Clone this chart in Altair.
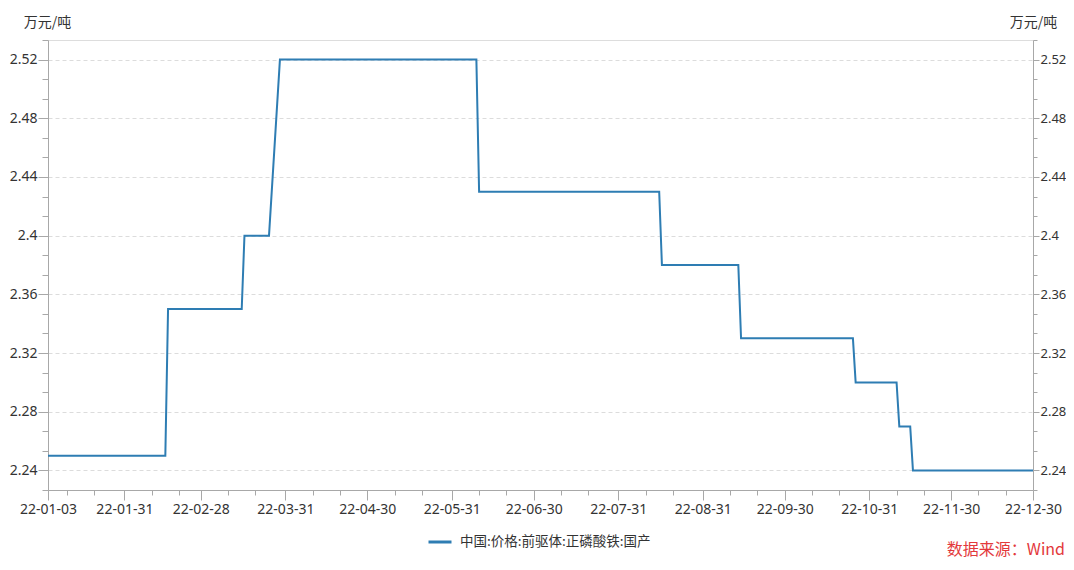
import altair as alt
import pandas as pd

# ---- text ----
series_name = "中国:价格:前驱体:正磷酸铁:国产"
unit_label = "万元/吨"
source_label = "数据来源：Wind"

# ---- series (step vertices) ----
dates = [
    "2022-01-03", "2022-02-15", "2022-02-16", "2022-03-15", "2022-03-16",
    "2022-03-25", "2022-03-29", "2022-06-09", "2022-06-10", "2022-08-15",
    "2022-08-16", "2022-09-13", "2022-09-14", "2022-10-25", "2022-10-26",
    "2022-11-10", "2022-11-11", "2022-11-15", "2022-11-16", "2022-12-30",
]
prices = [
    2.25, 2.25, 2.35, 2.35, 2.40,
    2.40, 2.52, 2.52, 2.43, 2.43,
    2.38, 2.38, 2.33, 2.33, 2.30,
    2.30, 2.27, 2.27, 2.24, 2.24,
]

# ---- tick labels ----
x_major_labels = [
    "2022-01-03", "2022-01-31", "2022-02-28", "2022-03-31", "2022-04-30",
    "2022-05-31", "2022-06-30", "2022-07-31", "2022-08-31", "2022-09-30",
    "2022-10-31", "2022-11-30", "2022-12-30",
]
x_minor_days = [10, 20]
x_minor_months = list(range(1, 13))
y_major = [2.24, 2.28, 2.32, 2.36, 2.40, 2.44, 2.48, 2.52]
y_step = 0.04 / 3
y_lo = 2.24 - y_step
y_hi = 2.52 + y_step
y_minor = [round(2.24 + k * y_step, 6) for k in range(-1, 23) if k % 3 != 0]

# ---- styles ----
LINE = "#2e7db3"
AX = "#a8a8a8"
LAB = "#333333"
FONT = "Noto Sans, Noto Sans CJK SC, sans-serif"
FONT_CJK = "Noto Sans CJK SC, sans-serif"
SRC = "#e3393c"


def dt(s):
    y, m, d = (int(v) for v in s.split("-"))
    return alt.DateTime(year=y, month=m, date=d, utc=True)


x_major_vals = [dt(s) for s in x_major_labels]
x_minor_vals = [alt.DateTime(year=2022, month=m, date=d, utc=True)
                for m in x_minor_months for d in x_minor_days]

df = pd.DataFrame({"date": dates, "price": prices, "series": series_name})

x_scale = alt.Scale(type="utc", domain=[dt(x_major_labels[0]), dt(x_major_labels[-1])])
y_scale = alt.Scale(domain=[y_lo, y_hi], zero=False, nice=False)

common_axis = dict(domainColor=AX, tickColor=AX, labelColor=LAB, labelFont=FONT,
                   labelFontSize=14, title=None, labelOverlap=False, labelFlush=False)

line = alt.Chart(df).mark_line(strokeWidth=2).encode(
    x=alt.X("date:T", scale=x_scale, axis=alt.Axis(
        values=x_major_vals, labelExpr="utcFormat(datum.value, '%y-%m-%d')",
        tickSize=10, labelPadding=2, grid=False, orient="bottom", **common_axis)),
    y=alt.Y("price:Q", scale=y_scale, axis=alt.Axis(
        values=y_major, format=".2~f", tickSize=10, labelPadding=1, orient="left",
        grid=True, gridDash=[4, 3], gridColor="#dcdcdc", gridWidth=1,
        domainColor=AX, tickColor=AX, labelColor=LAB, labelFont=FONT, labelFontSize=14,
        labelOverlap=False, labelFlush=False,
        title=unit_label, titleAngle=0, titleX=-1, titleY=-18, titleAlign="center",
        titleBaseline="middle", titleFontSize=14, titleFontWeight="normal",
        titleColor=LAB, titleFont=FONT_CJK)),
    color=alt.Color("series:N", scale=alt.Scale(domain=[series_name], range=[LINE]),
                    legend=alt.Legend(orient="none", legendX=379, legendY=489,
                                      direction="horizontal", title=None,
                                      symbolType="stroke", symbolSize=529,
                                      symbolStrokeWidth=3, labelFontSize=13.5,
                                      labelFont=FONT_CJK, labelColor=LAB,
                                      labelOffset=7, padding=0, labelLimit=0)),
)

minor_left = alt.Chart(df).mark_line(strokeOpacity=0).encode(
    x=alt.X("date:T", scale=x_scale, axis=alt.Axis(
        values=x_minor_vals, labels=False, domain=False, tickSize=5, grid=False,
        orient="bottom", tickColor=AX, title=None)),
    y=alt.Y("price:Q", scale=y_scale, axis=alt.Axis(
        values=y_minor, labels=False, domain=False, tickSize=6, grid=False,
        orient="left", tickColor=AX, title=None)),
)

right_major = alt.Chart(df).mark_line(strokeOpacity=0).encode(
    x=alt.X("date:T", scale=x_scale, axis=None),
    y=alt.Y("price:Q", scale=y_scale, axis=alt.Axis(
        values=y_major, format=".2~f", tickSize=6, labelPadding=1, orient="right",
        grid=False, domainColor=AX, tickColor=AX, labelColor=LAB, labelFont=FONT,
        labelFontSize=13, labelOverlap=False, labelFlush=False,
        title=unit_label, titleAngle=0, titleX=0, titleY=-18, titleAlign="center",
        titleBaseline="middle", titleFontSize=14, titleFontWeight="normal",
        titleColor=LAB, titleFont=FONT_CJK)),
)

right_minor = alt.Chart(df).mark_line(strokeOpacity=0).encode(
    x=alt.X("date:T", scale=x_scale, axis=None),
    y=alt.Y("price:Q", scale=y_scale, axis=alt.Axis(
        values=y_minor, labels=False, domain=False, tickSize=4, grid=False,
        orient="right", tickColor=AX, title=None)),
)

source = alt.Chart(pd.DataFrame({"t": [source_label]})).mark_text(
    align="right", baseline="middle", fontSize=16, font=FONT_CJK, color=SRC
).encode(text="t:N", x=alt.value(1017), y=alt.value(510))

chart = alt.layer(line, minor_left, right_major, right_minor, source).resolve_axis(
    x="independent", y="independent"
).properties(
    width=985, height=450,
    autosize=alt.AutoSizeParams(type="none"),
    padding={"left": 40, "top": 32, "right": 33, "bottom": 72},
).configure_view(stroke=None).configure(background="white")

chart.save("out.html", embed_options={"renderer": "svg", "actions": False})
